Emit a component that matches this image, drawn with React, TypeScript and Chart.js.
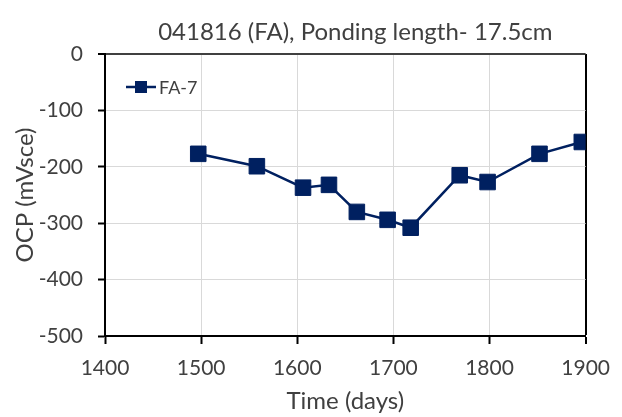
import React, { useEffect, useRef } from "react";
import { Chart, registerables } from "chart.js";

Chart.register(...registerables);

// Open-circuit potential readings for specimen FA-7
const TITLE = "041816 (FA), Ponding length- 17.5cm";
const SERIES_LABEL = "FA-7";
const X_TITLE = "Time (days)";
const Y_TITLE = "OCP (mVsce)";

const timeDays = [1497, 1558, 1606, 1633, 1662, 1694, 1718, 1769, 1798, 1852, 1896];
const ocpMv = [-177, -199, -237, -232, -280, -294, -308, -215, -227, -177, -156];

const X_MIN = 1400;
const X_MAX = 1900;
const Y_MIN = -500;
const Y_MAX = 0;
const STEP = 100;

const FONT = "Lato, 'Open Sans', 'DejaVu Sans', sans-serif";
const NAVY = "#002060";
const TEXT = "#404040";
const GRID = "#d9d9d9";

// Title above the plot and the in-plot legend entry (line + square marker)
const overlayPlugin = {
  id: "overlay",
  afterDraw(chart: any) {
    const { ctx, chartArea } = chart;
    ctx.save();
    ctx.fillStyle = TEXT;
    ctx.font = `24px ${FONT}`;
    ctx.textAlign = "center";
    ctx.textBaseline = "middle";
    ctx.fillText(TITLE, (chartArea.left + chartArea.right) / 2 + 10, 32);

    const lx = chartArea.left + 21;
    const ly = chartArea.top + 33;
    ctx.strokeStyle = NAVY;
    ctx.lineWidth = 2.5;
    ctx.beginPath();
    ctx.moveTo(lx, ly);
    ctx.lineTo(lx + 30, ly);
    ctx.stroke();
    ctx.fillStyle = NAVY;
    ctx.fillRect(lx + 9, ly - 6, 12, 12);
    ctx.fillStyle = TEXT;
    ctx.font = `18px ${FONT}`;
    ctx.textAlign = "left";
    ctx.fillText(SERIES_LABEL, lx + 33, ly + 1);
    ctx.restore();
  },
};

export default function App() {
  const canvasRef = useRef<HTMLCanvasElement | null>(null);

  useEffect(() => {
    if (!canvasRef.current) return;
    const chart = new Chart(canvasRef.current, {
      type: "line",
      data: {
        datasets: [
          {
            label: SERIES_LABEL,
            data: timeDays.map((t, i) => ({ x: t, y: ocpMv[i] })),
            borderColor: NAVY,
            backgroundColor: NAVY,
            borderWidth: 2.5,
            pointStyle: "rect",
            pointRadius: 11,
            pointBorderWidth: 1,
            pointBorderColor: NAVY,
            pointBackgroundColor: NAVY,
            tension: 0,
          },
        ],
      },
      options: {
        responsive: false,
        animation: false,
        layout: { padding: { top: 54, right: 30, bottom: 0, left: 0 } },
        plugins: {
          legend: { display: false },
          title: { display: false },
          tooltip: { enabled: false },
        },
        scales: {
          x: {
            type: "linear",
            min: X_MIN,
            max: X_MAX,
            afterFit: (scale: any) => {
              scale.height = 81;
            },
            ticks: {
              stepSize: STEP,
              color: TEXT,
              font: { family: FONT, size: 21 },
              padding: 12,
              maxRotation: 0,
              callback: (v: any) => String(v),
            },
            grid: {
              color: (c: any) => (c.tick && c.tick.value === X_MAX ? "#000" : GRID),
              lineWidth: (c: any) => (c.tick && c.tick.value === X_MAX ? 2 : 1),
              tickColor: "#000",
              tickWidth: 2,
              tickLength: 8,
            },
            border: { color: "#000", width: 2 },
            title: {
              display: true,
              text: X_TITLE,
              color: TEXT,
              font: { family: FONT, size: 24 },
              padding: { top: 0, bottom: 1 },
            },
          },
          y: {
            type: "linear",
            min: Y_MIN,
            max: Y_MAX,
            afterFit: (scale: any) => {
              scale.width = 105;
            },
            ticks: {
              stepSize: STEP,
              color: TEXT,
              font: { family: FONT, size: 21 },
              padding: 15,
              callback: (v: any) => String(v),
            },
            grid: {
              color: (c: any) => (c.tick && c.tick.value === Y_MAX ? "#404040" : GRID),
              lineWidth: (c: any) => (c.tick && c.tick.value === Y_MAX ? 2 : 1),
              tickColor: "#000",
              tickWidth: 2,
              tickLength: 7,
            },
            border: { color: "#000", width: 2 },
            title: {
              display: true,
              text: Y_TITLE,
              color: TEXT,
              font: { family: FONT, size: 24 },
              padding: { top: 11, bottom: 0 },
            },
          },
        },
      },
      plugins: [overlayPlugin],
    });
    return () => chart.destroy();
  }, []);

  return (
    <div style={{ position: "fixed", left: 0, top: 0, width: 622, height: 417, background: "#fff" }}>
      <canvas ref={canvasRef} width={622} height={417} />
    </div>
  );
}
